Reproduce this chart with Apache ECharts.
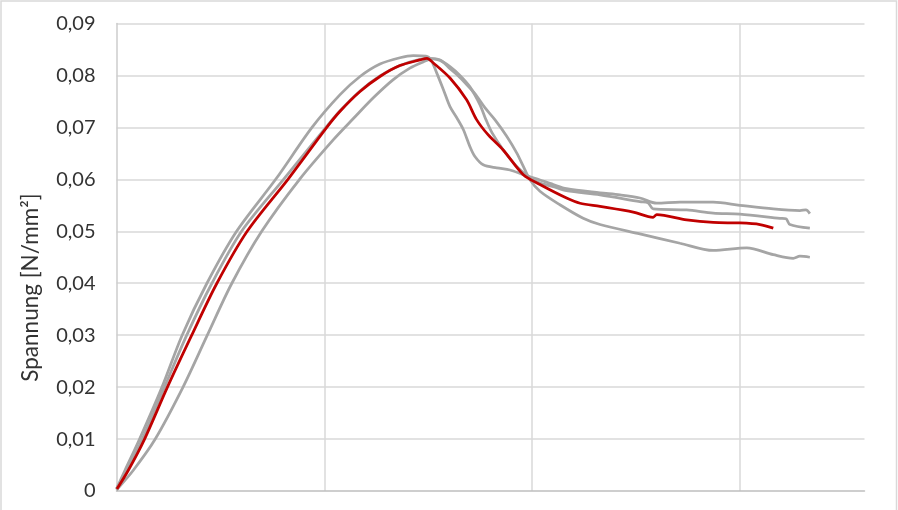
<!DOCTYPE html>
<html>
<head>
<meta charset="utf-8">
<script src="https://cdn.jsdelivr.net/npm/echarts@6/dist/echarts.min.js"></script>
<style>
  html, body { margin: 0; padding: 0; background: #fff; }
  #chart { width: 898px; height: 510px; }
</style>
</head>
<body>
<div id="chart"></div>
<script>
// Messkurven, Wertepaare [Weg, Spannung]
const probe1 = [
  [0, 0.0004], [0.041, 0.0040], [0.110, 0.0099], [0.218, 0.0199], [0.315, 0.0299],
  [0.434, 0.0399], [0.578, 0.0500], [0.768, 0.0601], [0.941, 0.0700], [1.076, 0.0763],
  [1.172, 0.0798], [1.268, 0.0822], [1.364, 0.0834], [1.428, 0.0838], [1.489, 0.0837],
  [1.513, 0.0830], [1.541, 0.0805], [1.573, 0.0773], [1.605, 0.0740], [1.637, 0.0719],
  [1.669, 0.0696], [1.701, 0.0663], [1.725, 0.0644], [1.765, 0.0628], [1.830, 0.0622],
  [1.894, 0.0618], [1.958, 0.0609], [2.022, 0.0601], [2.102, 0.0590], [2.166, 0.0582],
  [2.327, 0.0574], [2.423, 0.0570], [2.519, 0.0564], [2.600, 0.0554], [2.712, 0.0556],
  [2.872, 0.0556], [3.000, 0.0550], [3.161, 0.0543], [3.289, 0.0540], [3.318, 0.0541],
  [3.337, 0.0534]
]

const probe2 = [
  [0, 0.0004], [0.051, 0.0040], [0.123, 0.0099], [0.230, 0.0199], [0.337, 0.0299],
  [0.458, 0.0399], [0.602, 0.0500], [0.806, 0.0601], [1.008, 0.0700], [1.076, 0.0732],
  [1.172, 0.0770], [1.268, 0.0799], [1.364, 0.0819], [1.461, 0.0831], [1.509, 0.0833],
  [1.557, 0.0829], [1.605, 0.0817], [1.653, 0.0800], [1.701, 0.0778], [1.749, 0.0744],
  [1.778, 0.0715], [1.807, 0.0690], [1.861, 0.0657], [1.926, 0.0625], [1.990, 0.0603],
  [2.038, 0.0593], [2.102, 0.0586], [2.166, 0.0578], [2.327, 0.0570], [2.519, 0.0557],
  [2.558, 0.0555], [2.583, 0.0543], [2.744, 0.0541], [2.872, 0.0535], [3.000, 0.0533],
  [3.193, 0.0525], [3.222, 0.0524], [3.241, 0.0513], [3.337, 0.0506]
]

const probe3 = [
  [0, 0.0002], [0.081, 0.0040], [0.185, 0.0099], [0.319, 0.0199], [0.436, 0.0299],
  [0.554, 0.0399], [0.699, 0.0500], [0.883, 0.0601], [1.043, 0.0676], [1.140, 0.0717],
  [1.236, 0.0757], [1.332, 0.0792], [1.412, 0.0814], [1.476, 0.0826], [1.518, 0.0832],
  [1.557, 0.0830], [1.605, 0.0813], [1.643, 0.0800], [1.682, 0.0784], [1.725, 0.0765],
  [1.773, 0.0738], [1.821, 0.0715], [1.878, 0.0683], [1.926, 0.0651], [1.958, 0.0625],
  [1.990, 0.0599], [2.038, 0.0577], [2.134, 0.0551], [2.246, 0.0525], [2.327, 0.0513],
  [2.519, 0.0495], [2.712, 0.0477], [2.872, 0.0463], [3.033, 0.0468], [3.161, 0.0455],
  [3.257, 0.0448], [3.289, 0.0452], [3.337, 0.0450]
]

// Mittelwertkurve
const mittel = [
  [0.002, 0.0004], [0.057, 0.0040], [0.134, 0.0099], [0.244, 0.0199], [0.361, 0.0299],
  [0.482, 0.0399], [0.629, 0.0500], [0.827, 0.0601], [1.012, 0.0700], [1.076, 0.0731],
  [1.172, 0.0769], [1.268, 0.0798], [1.364, 0.0819], [1.461, 0.0830], [1.494, 0.0833],
  [1.525, 0.0824], [1.605, 0.0795], [1.685, 0.0753], [1.733, 0.0715], [1.788, 0.0686],
  [1.860, 0.0657], [1.958, 0.0609], [2.038, 0.0590], [2.166, 0.0564], [2.231, 0.0554],
  [2.327, 0.0548], [2.487, 0.0537], [2.583, 0.0527], [2.600, 0.0532], [2.744, 0.0522],
  [2.872, 0.0517], [3.000, 0.0516], [3.097, 0.0513], [3.161, 0.0506]
]

const yTicks = { min: 0, max: 0.09, step: 0.01 }
const xTicks = { min: 0, max: 3.6, step: 1 }
const yTitle = 'Spannung [N/mm²]'

const FONT = 'Lato, "Open Sans", sans-serif'
const GRAY = '#a5a5a5'
const RED = '#c00000'

function lineSeries(name, data, color) {
  return {
    name: name,
    type: 'line',
    data: data,
    smooth: 0.3,
    symbol: 'none',
    lineStyle: { color: color, width: 2.75 },
    itemStyle: { color: color },
    silent: true
  }
}

const chart = echarts.init(document.getElementById('chart'), null, { renderer: 'canvas' })

const option = {
  animation: false,
  backgroundColor: '#fff',
  grid: {
    left: 116.5,
    top: 23.5,
    width: 748,
    height: 467.5
  },
  xAxis: {
    type: 'value',
    min: xTicks.min,
    max: xTicks.max,
    interval: xTicks.step,
    axisLabel: { show: false },
    axisTick: { show: false },
    axisLine: { show: true, lineStyle: { color: '#bfbfbf', width: 1.5 } },
    splitLine: {
      show: true,
      showMinLine: false,
      showMaxLine: false,
      lineStyle: { color: '#d9d9d9', width: 1.5 }
    }
  },
  yAxis: {
    type: 'value',
    min: yTicks.min,
    max: yTicks.max,
    interval: yTicks.step,
    axisTick: { show: false },
    axisLine: { show: true, lineStyle: { color: '#cccccc', width: 1.5 } },
    axisLabel: {
      color: '#333333',
      fontFamily: FONT,
      fontSize: 20,
      margin: 21,
      formatter: v => (v === 0 ? '0' : v.toFixed(2).replace('.', ','))
    },
    splitLine: {
      show: true,
      showMinLine: false,
      lineStyle: { color: '#d9d9d9', width: 1.5 }
    }
  },
  graphic: [
    {
      type: 'rect',
      silent: true,
      shape: { x: 1, y: 1, width: 895.5, height: 530 },
      style: { fill: 'none', stroke: '#d9d9d9', lineWidth: 1.5 }
    },
    {
      type: 'text',
      silent: true,
      x: 31,
      y: 287.5,
      rotation: Math.PI / 2,
      style: {
        text: yTitle,
        fill: '#333333',
        font: '22.5px ' + FONT,
        textAlign: 'center',
        textVerticalAlign: 'middle'
      }
    }
  ],
  series: [
    lineSeries('Probe 1', probe1, GRAY),
    lineSeries('Probe 2', probe2, GRAY),
    lineSeries('Probe 3', probe3, GRAY),
    lineSeries('Mittelwert', mittel, RED)
  ]
}

chart.setOption(option)
</script>
</body>
</html>
